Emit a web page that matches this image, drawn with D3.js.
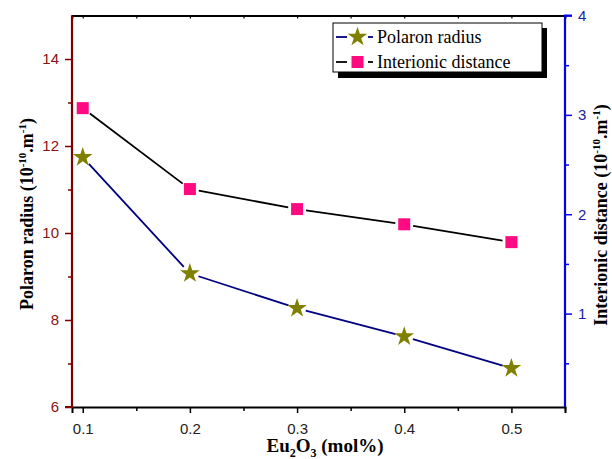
<!DOCTYPE html>
<html><head><meta charset="utf-8">
<script src="https://cdn.jsdelivr.net/npm/d3@7"></script>
<style>body{margin:0;background:#fff}svg{display:block}</style>
</head><body>
<svg id="c" width="612" height="459"></svg>
<script>
const xValues = [0.1, 0.2, 0.3, 0.4, 0.5];
const polaronRadius = [11.74, 9.07, 8.27, 7.62, 6.89];
const interionicDistance = [12.87, 11.01, 10.55, 10.2, 9.79];
const xTicks = [0.1, 0.2, 0.3, 0.4, 0.5];
const leftTicks = [6, 8, 10, 12, 14];
const rightTicks = [1, 2, 3, 4];
const seriesNames = ["Polaron radius", "Interionic distance"];

const svg = d3.select("#c");
const L = 72, R = 565, T = 15.5, B = 407;
const x = d3.scaleLinear().domain([0.09, 0.55]).range([L, R]);
const yL = d3.scaleLinear().domain([6, 15]).range([B, T]);
const yR = d3.scaleLinear().domain([0.06, 4]).range([B, T]);

// top axis
svg.append("g").attr("transform", `translate(0,${T})`)
  .call(d3.axisBottom(x).tickValues(d3.range(0.1, 0.551, 0.05)).tickSize(3).tickFormat(""))
  .call(g => { g.select(".domain").attr("stroke", "#000").attr("stroke-width", 2); g.selectAll("line").attr("stroke", "#000").attr("stroke-width", 1.2); });
// bottom axis
const bx = svg.append("g").attr("transform", `translate(0,${B})`);
bx.call(d3.axisBottom(x).tickValues(d3.range(0.15, 0.551, 0.1)).tickSize(4).tickFormat(""))
  .call(g => { g.select(".domain").remove(); g.selectAll("line").attr("stroke", "#000").attr("stroke-width", 1.5); });
const bx2 = svg.append("g").attr("transform", `translate(0,${B})`);
bx2.call(d3.axisBottom(x).tickValues(xTicks).tickSize(6).tickPadding(10).tickFormat(d3.format(".1f")))
  .call(g => { g.select(".domain").attr("stroke", "#000").attr("stroke-width", 2); g.selectAll("line").attr("stroke", "#000").attr("stroke-width", 1.5);
    g.selectAll("text").attr("font-family", "Arial, 'Liberation Sans', sans-serif").attr("font-size", 15).attr("fill", "#222"); });

// left axis
svg.append("g").attr("transform", `translate(${L},0)`)
  .call(d3.axisLeft(yL).tickValues([7, 9, 11, 13]).tickSize(4).tickFormat(""))
  .call(g => { g.select(".domain").remove(); g.selectAll("line").attr("stroke", "#800000").attr("stroke-width", 1.5); });
svg.append("g").attr("transform", `translate(${L},0)`)
  .call(d3.axisLeft(yL).tickValues(leftTicks).tickSize(7).tickPadding(6))
  .call(g => { g.select(".domain").attr("stroke", "#800000").attr("stroke-width", 2.2).attr("d", `M-7,${B}H0V${T}`);
    g.selectAll("line").attr("stroke", "#800000").attr("stroke-width", 1.5);
    g.selectAll("text").attr("font-family", "Arial, 'Liberation Sans', sans-serif").attr("font-size", 15).attr("fill", "#8b1010"); });

// right axis
svg.append("g").attr("transform", `translate(${R},0)`)
  .call(d3.axisRight(yR).tickValues([0.5, 1.5, 2.5, 3.5]).tickSize(4).tickFormat(""))
  .call(g => { g.select(".domain").remove(); g.selectAll("line").attr("stroke", "#0000ee").attr("stroke-width", 1.5); });
svg.append("g").attr("transform", `translate(${R},0)`)
  .call(d3.axisRight(yR).tickValues(rightTicks).tickSize(7).tickPadding(6).tickFormat(d3.format("d")))
  .call(g => { g.select(".domain").attr("stroke", "#0000ee").attr("stroke-width", 2.2).attr("d", `M0,${B}V${T}H7`);
    g.selectAll("line").attr("stroke", "#0000ee").attr("stroke-width", 1.5);
    g.selectAll("text").attr("font-family", "Arial, 'Liberation Sans', sans-serif").attr("font-size", 15).attr("fill", "#1a1aa8"); });

// gapped lines
function gappedLine(pts, color, gap) {
  for (let i = 0; i < pts.length - 1; i++) {
    const [x1, y1] = pts[i], [x2, y2] = pts[i + 1];
    const dx = x2 - x1, dy = y2 - y1, len = Math.hypot(dx, dy);
    const ux = dx / len, uy = dy / len;
    svg.append("line")
      .attr("x1", x1 + ux * gap).attr("y1", y1 + uy * gap)
      .attr("x2", x2 - ux * gap).attr("y2", y2 - uy * gap)
      .attr("stroke", color).attr("stroke-width", 1.8);
  }
}
const pPts = xValues.map((v, i) => [x(v), yL(polaronRadius[i])]);
const iPts = xValues.map((v, i) => [x(v), yL(interionicDistance[i])]);
gappedLine(iPts, "#000", 9);
gappedLine(pPts, "#000080", 9);

const star = d3.symbol().type(d3.symbolStar).size(120);
svg.append("g").selectAll("path").data(pPts).join("path")
  .attr("d", star).attr("transform", d => `translate(${d[0]},${d[1]})`).attr("fill", "#808000");
svg.append("g").selectAll("rect").data(iPts).join("rect")
  .attr("x", d => d[0] - 6).attr("y", d => d[1] - 6).attr("width", 12).attr("height", 12)
  .attr("fill", "#ff0a80");

// legend
const serif = "'Liberation Serif', 'Times New Roman', serif";
const lg = svg.append("g");
lg.append("rect").attr("x", 338).attr("y", 28).attr("width", 209).attr("height", 50).attr("fill", "#000");
lg.append("rect").attr("x", 333).attr("y", 23).attr("width", 209).attr("height", 49).attr("fill", "#fff").attr("stroke", "#000").attr("stroke-width", 1);
const rows = [
  {y: 37, color: "#000080", type: "star"},
  {y: 62, color: "#000", type: "sq"}
];
rows.forEach((r, i) => {
  lg.append("line").attr("x1", 336).attr("x2", 347).attr("y1", r.y).attr("y2", r.y).attr("stroke", r.color).attr("stroke-width", 1.8);
  lg.append("line").attr("x1", 368).attr("x2", 373).attr("y1", r.y).attr("y2", r.y).attr("stroke", r.color).attr("stroke-width", 1.8);
  if (r.type === "star") lg.append("path").attr("d", star).attr("transform", `translate(357.5,${r.y})`).attr("fill", "#808000");
  else lg.append("rect").attr("x", 351.5).attr("y", r.y - 6).attr("width", 12).attr("height", 12).attr("fill", "#ff0a80");
  lg.append("text").attr("x", 377).attr("y", r.y + 6).text(seriesNames[i])
    .attr("font-family", serif).attr("font-size", 18).attr("fill", "#000");
});

// axis titles
const xt = svg.append("text").attr("x", 325).attr("y", 452).attr("text-anchor", "middle")
  .attr("font-family", serif).attr("font-size", 19).attr("font-weight", "bold");
xt.append("tspan").text("Eu");
xt.append("tspan").text("2").attr("font-size", 12).attr("dy", 5);
xt.append("tspan").text("O").attr("dy", -5);
xt.append("tspan").text("3").attr("font-size", 12).attr("dy", 5);
xt.append("tspan").text(" (mol%)").attr("dy", -5);

function unitTitle(tx, ty, label) {
  const t = svg.append("text").attr("transform", `translate(${tx},${ty}) rotate(-90)`).attr("text-anchor", "middle")
    .attr("font-family", serif).attr("font-size", 18).attr("font-weight", "bold").attr("fill", "#000");
  t.append("tspan").text(label + " (10");
  t.append("tspan").text("-10").attr("font-size", 11).attr("dy", -7);
  t.append("tspan").text(".m").attr("dy", 7);
  t.append("tspan").text("-1").attr("font-size", 11).attr("dy", -7);
  t.append("tspan").text(")").attr("dy", 7);
}
unitTitle(33, 214, "Polaron radius");
unitTitle(607, 215, "Interionic distance");
</script>
</body></html>
